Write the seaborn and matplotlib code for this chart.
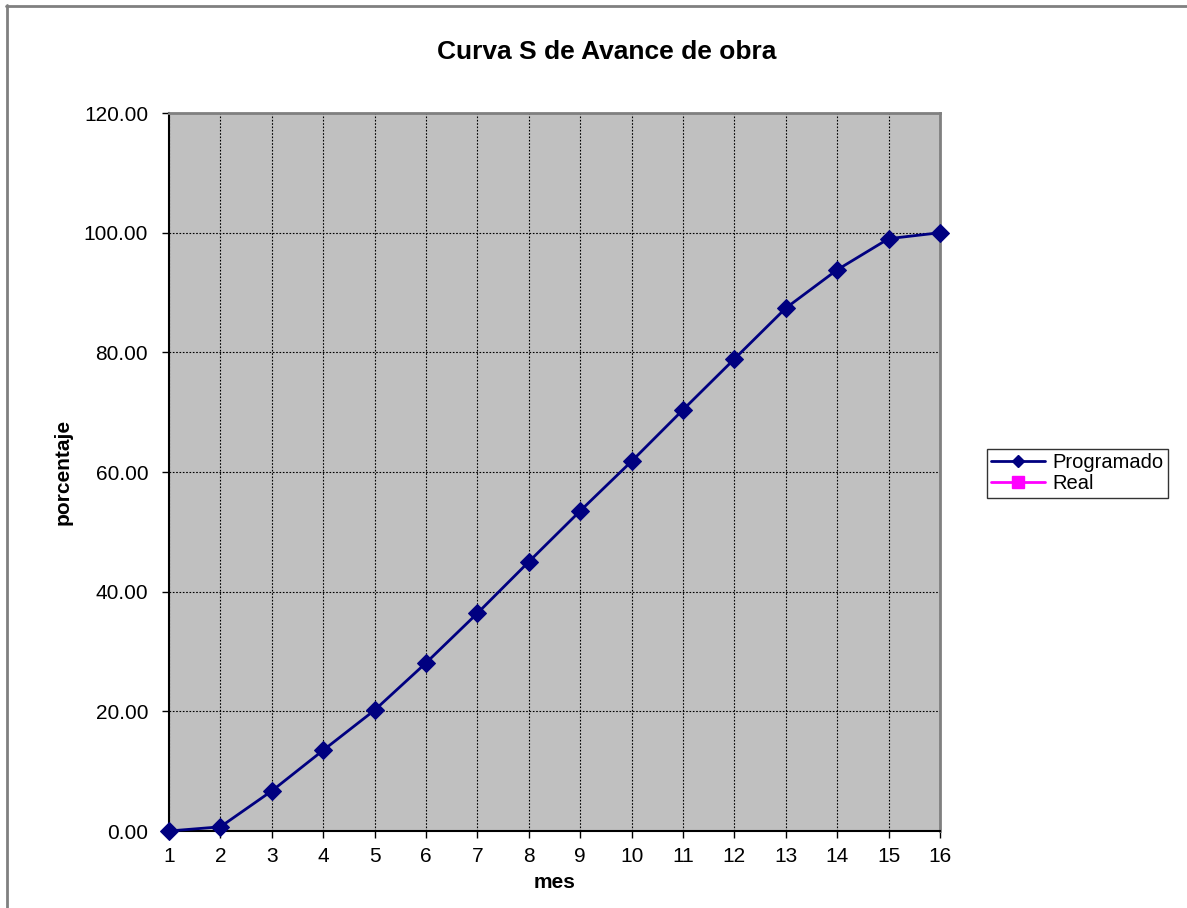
import matplotlib
matplotlib.use("Agg")
import matplotlib.pyplot as plt
from matplotlib.lines import Line2D
import seaborn as sns
import pandas as pd

meses = list(range(1, 17))
programado = [0.0, 0.7, 6.7, 13.5, 20.2, 28.1, 36.4, 45.0, 53.5, 61.8,
              70.4, 78.9, 87.4, 93.8, 99.0, 100.0]
real = []  # no progress recorded yet
y_ticks = [0, 20, 40, 60, 80, 100, 120]

sns.set_style("white")
plt.rcParams["font.family"] = ["Liberation Sans", "DejaVu Sans"]
plt.rcParams["text.color"] = "black"
plt.rcParams["axes.labelcolor"] = "black"
plt.rcParams["xtick.color"] = "black"
plt.rcParams["ytick.color"] = "black"

df = pd.DataFrame({"mes": meses, "Programado": programado})

fig = plt.figure(figsize=(11.87, 9.08), dpi=100)
ax = fig.add_axes([0.1424, 0.0848, 0.6495, 0.7907])
ax.set_facecolor("#C0C0C0")

sns.lineplot(data=df, x="mes", y="Programado", ax=ax, color="#000080",
             linewidth=2, marker="D", markersize=9, markeredgecolor="#000080",
             label="Programado", zorder=5, clip_on=False)
ax.plot(meses[:len(real)], real, color="#FF00FF", linewidth=2, marker="s",
        markersize=9, label="Real")

ax.set_xlim(1, 16)
ax.set_ylim(0, 120)
ax.set_xticks(meses)
ax.set_yticks(y_ticks)
ax.set_yticklabels([f"{v:.2f}" for v in y_ticks])
ax.tick_params(axis="both", labelsize=15, direction="out", length=5,
               width=1, color="black", left=True, bottom=True)
ax.tick_params(axis="y", pad=10)
ax.tick_params(axis="x", pad=6.5)

ax.grid(True, color="black", linestyle=(0, (1.5, 1.5)), linewidth=0.8)
ax.set_axisbelow(True)

for side in ["top", "right"]:
    ax.spines[side].set_color("#808080")
    ax.spines[side].set_linewidth(2)
for side in ["left", "bottom"]:
    ax.spines[side].set_color("black")
    ax.spines[side].set_linewidth(1.5)

ax.set_xlabel("mes", fontsize=15, fontweight="bold", labelpad=5)
ax.set_ylabel("porcentaje", fontsize=15, fontweight="bold", labelpad=8)
fig.text(0.511, 0.943, "Curva S de Avance de obra", fontsize=19,
         fontweight="bold", ha="center", va="center")

handles = [
    Line2D([], [], color="#000080", linewidth=2, marker="D", markersize=6.5),
    Line2D([], [], color="#FF00FF", linewidth=2, marker="s", markersize=8),
]
leg = ax.legend(handles, ["Programado", "Real"], loc="upper left",
                bbox_to_anchor=(1.061, 0.532), fontsize=14.5, frameon=True,
                fancybox=False, edgecolor="black", borderpad=0.22,
                handlelength=2.64, handletextpad=0.4, labelspacing=0.08,
                borderaxespad=0)
leg.get_frame().set_linewidth(1)

# outer chart border (top and left edges)
fig.add_artist(Line2D([0.005, 1.0], [0.9935, 0.9935], color="#808080",
                      linewidth=2, transform=fig.transFigure))
fig.add_artist(Line2D([0.0055, 0.0055], [0.0, 0.994], color="#808080",
                      linewidth=2, transform=fig.transFigure))

fig.savefig("out.png", dpi=100)
